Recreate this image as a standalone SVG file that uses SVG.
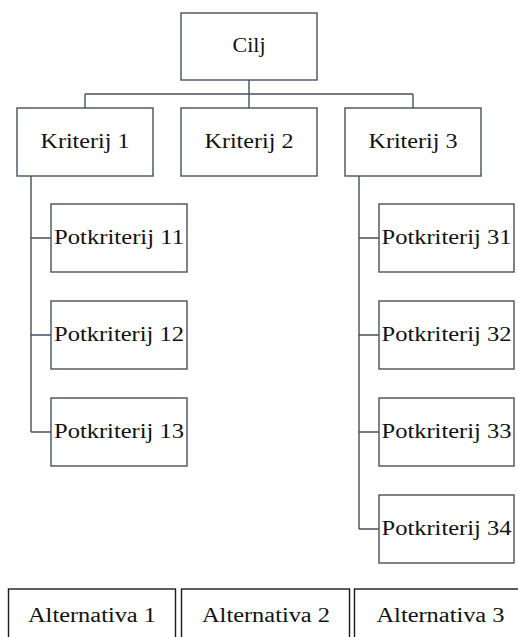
<svg xmlns="http://www.w3.org/2000/svg" width="518" height="637" viewBox="0 0 518 637">
<style>
.box{fill:#fff;stroke:#46505f;stroke-width:1.4}
.alt{fill:#fff;stroke:#1a1a1a;stroke-width:1.4}
.con{fill:none;stroke:#46505f;stroke-width:1.4}
.t{font-size:20px;fill:#111;text-anchor:middle}
</style>
<rect width="518" height="637" fill="#fff"/>
<g id="connectors">
<path class="con" d="M249,80 V94 M85,94 H413 M85,94 V108 M249,94 V108 M413,94 V108"/>
<path class="con" d="M31,176 V432 M31,238 H51 M31,335 H51 M31,432 H51"/>
<path class="con" d="M359,176 V529 M359,238 H379 M359,335 H379 M359,432 H379 M359,529 H379"/>
</g>
<g font-family="Liberation Serif, DejaVu Serif, serif">
<g id="cilj"><rect class="box" x="181" y="13" width="136" height="67"/><text class="t" x="249" y="52" textLength="33" lengthAdjust="spacingAndGlyphs">Cilj</text></g>
<g id="kriterij1"><rect class="box" x="17" y="108" width="136" height="68"/><text class="t" x="85" y="148" textLength="89" lengthAdjust="spacingAndGlyphs">Kriterij 1</text></g>
<g id="kriterij2"><rect class="box" x="181" y="108" width="136" height="68"/><text class="t" x="249" y="148" textLength="89" lengthAdjust="spacingAndGlyphs">Kriterij 2</text></g>
<g id="kriterij3"><rect class="box" x="345" y="108" width="136" height="68"/><text class="t" x="413" y="148" textLength="89" lengthAdjust="spacingAndGlyphs">Kriterij 3</text></g>
<g id="potkriterij11"><rect class="box" x="51" y="204" width="136" height="68"/><text class="t" x="119" y="244" textLength="130" lengthAdjust="spacingAndGlyphs">Potkriterij 11</text></g>
<g id="potkriterij12"><rect class="box" x="51" y="301" width="136" height="68"/><text class="t" x="119" y="341" textLength="130" lengthAdjust="spacingAndGlyphs">Potkriterij 12</text></g>
<g id="potkriterij13"><rect class="box" x="51" y="398" width="136" height="68"/><text class="t" x="119" y="438" textLength="130" lengthAdjust="spacingAndGlyphs">Potkriterij 13</text></g>
<g id="potkriterij31"><rect class="box" x="379" y="204" width="135" height="68"/><text class="t" x="446.5" y="244" textLength="130" lengthAdjust="spacingAndGlyphs">Potkriterij 31</text></g>
<g id="potkriterij32"><rect class="box" x="379" y="301" width="135" height="68"/><text class="t" x="446.5" y="341" textLength="130" lengthAdjust="spacingAndGlyphs">Potkriterij 32</text></g>
<g id="potkriterij33"><rect class="box" x="379" y="398" width="135" height="68"/><text class="t" x="446.5" y="438" textLength="130" lengthAdjust="spacingAndGlyphs">Potkriterij 33</text></g>
<g id="potkriterij34"><rect class="box" x="379" y="495" width="135" height="68"/><text class="t" x="446.5" y="535" textLength="130" lengthAdjust="spacingAndGlyphs">Potkriterij 34</text></g>
<g id="alternativa1"><rect class="alt" x="8.5" y="589" width="167" height="70"/><text class="t" x="92" y="622" textLength="128" lengthAdjust="spacingAndGlyphs">Alternativa 1</text></g>
<g id="alternativa2"><rect class="alt" x="181.5" y="589" width="168" height="70"/><text class="t" x="266" y="622" textLength="128" lengthAdjust="spacingAndGlyphs">Alternativa 2</text></g>
<g id="alternativa3"><rect class="alt" x="354.5" y="589" width="173" height="70"/><text class="t" x="440.5" y="622" textLength="128" lengthAdjust="spacingAndGlyphs">Alternativa 3</text></g>
</g>
</svg>
